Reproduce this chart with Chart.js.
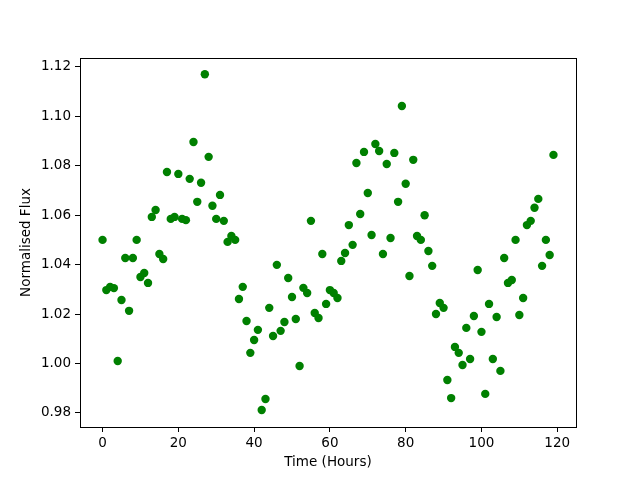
<!DOCTYPE html>
<html>
<head>
<meta charset="utf-8">
<script src="https://cdn.jsdelivr.net/npm/chart.js@4/dist/chart.umd.min.js"></script>
<style>
  html, body { margin: 0; padding: 0; background: #fff; }
  #wrap { width: 640px; height: 480px; }
</style>
</head>
<body>
<div id="wrap"><canvas id="fluxChart"></canvas></div>
<script>
// hours of observation
const hours = [
    0, 1, 2, 3, 4, 5, 6, 7, 8, 9, 10, 11, 12, 13, 14, 15, 16, 17, 18, 19,
    20, 21, 22, 23, 24, 25, 26, 27, 28, 29, 30, 31, 32, 33, 34, 35, 36, 37, 38, 39,
    40, 41, 42, 43, 44, 45, 46, 47, 48, 49, 50, 51, 52, 53, 54, 55, 56, 57, 58, 59,
    60, 61, 62, 63, 64, 65, 66, 67, 68, 69, 70, 71, 72, 73, 74, 75, 76, 77, 78, 79,
    80, 81, 82, 83, 84, 85, 86, 87, 88, 89, 90, 91, 92, 93, 94, 95, 96, 97, 98, 99,
    100, 101, 102, 103, 104, 105, 106, 107, 108, 109, 110, 111, 112, 113, 114, 115, 116, 117, 118, 119
];

// normalised flux
const flux = [
    1.0500, 1.0297, 1.0310, 1.0305, 1.0010, 1.0257, 1.0427, 1.0213, 1.0427, 1.0500,
    1.0350, 1.0366, 1.0326, 1.0593, 1.0621, 1.0443, 1.0423, 1.0775, 1.0585, 1.0593,
    1.0767, 1.0585, 1.0580, 1.0747, 1.0896, 1.0654, 1.0731, 1.1170, 1.0836, 1.0638,
    1.0585, 1.0682, 1.0577, 1.0492, 1.0516, 1.0500, 1.0261, 1.0310, 1.0172, 1.0043,
    1.0095, 1.0136, 0.9812, 0.9856, 1.0225, 1.0111, 1.0399, 1.0132, 1.0168, 1.0346,
    1.0269, 1.0180, 0.9990, 1.0306, 1.0285, 1.0577, 1.0204, 1.0184, 1.0443, 1.0241,
    1.0297, 1.0285, 1.0265, 1.0415, 1.0447, 1.0560, 1.0480, 1.0811, 1.0605, 1.0856,
    1.0690, 1.0520, 1.0888, 1.0860, 1.0443, 1.0807, 1.0508, 1.0852, 1.0654, 1.1042,
    1.0727, 1.0354, 1.0824, 1.0516, 1.0500, 1.0600, 1.0455, 1.0395, 1.0200, 1.0245,
    1.0225, 0.9933, 0.9860, 1.0067, 1.0043, 0.9994, 1.0144, 1.0018, 1.0192, 1.0378,
    1.0128, 0.9877, 1.0241, 1.0018, 1.0188, 0.9970, 1.0427, 1.0326, 1.0338, 1.0500,
    1.0196, 1.0265, 1.0560, 1.0577, 1.0630, 1.0666, 1.0395, 1.0500, 1.0439, 1.0844
];

const xTicks = [0, 20, 40, 60, 80, 100, 120];
const yTicks = [0.98, 1.00, 1.02, 1.04, 1.06, 1.08, 1.10, 1.12];

const points = hours.map((h, i) => ({ x: h, y: flux[i] }));

// draw the full box round the plot area, like matplotlib
const frame = {
    id: 'frame',
    afterDraw(chart) {
        const { ctx, chartArea: a } = chart;
        ctx.save();
        ctx.strokeStyle = '#000';
        ctx.lineWidth = 1;
        ctx.strokeRect(a.left + 0.5, a.top + 0.5, a.right - a.left, a.bottom - a.top);
        ctx.restore();
    }
};

const font = { family: 'DejaVu Sans', size: 13.5 };

new Chart(document.getElementById('fluxChart'), {
    type: 'scatter',
    data: {
        datasets: [{
            data: points,
            backgroundColor: '#008000',
            borderColor: '#008000',
            borderWidth: 0,
            pointRadius: 4.2,
            pointHoverRadius: 4.2
        }]
    },
    options: {
        responsive: true,
        maintainAspectRatio: false,
        animation: false,
        events: [],
        layout: { padding: { top: 58, right: 64, left: 0, bottom: 0 } },
        plugins: {
            legend: { display: false },
            tooltip: { enabled: false }
        },
        scales: {
            x: {
                type: 'linear',
                min: -5.95,
                max: 124.95,
                afterBuildTicks: scale => { scale.ticks = xTicks.map(v => ({ value: v })); },
                afterFit: scale => { scale.height = 53; },
                grid: { drawOnChartArea: false, drawTicks: true, tickLength: 5, color: '#000' },
                border: { display: false },
                ticks: { color: '#000', font: font, padding: 3, maxRotation: 0 },
                title: { display: true, text: 'Time (Hours)', color: '#000', font: font, padding: { top: 0, bottom: 9 } }
            },
            y: {
                type: 'linear',
                min: 0.9743,
                max: 1.1236,
                afterBuildTicks: scale => { scale.ticks = yTicks.map(v => ({ value: v })); },
                afterFit: scale => { scale.width = 80; },
                grid: { drawOnChartArea: false, drawTicks: true, tickLength: 5, color: '#000' },
                border: { display: false },
                ticks: { color: '#000', font: font, padding: 4, callback: v => v.toFixed(2) },
                title: { display: true, text: 'Normalised Flux', color: '#000', font: font, padding: { top: 18, bottom: 0 } }
            }
        }
    },
    plugins: [frame]
});
</script>
</body>
</html>
